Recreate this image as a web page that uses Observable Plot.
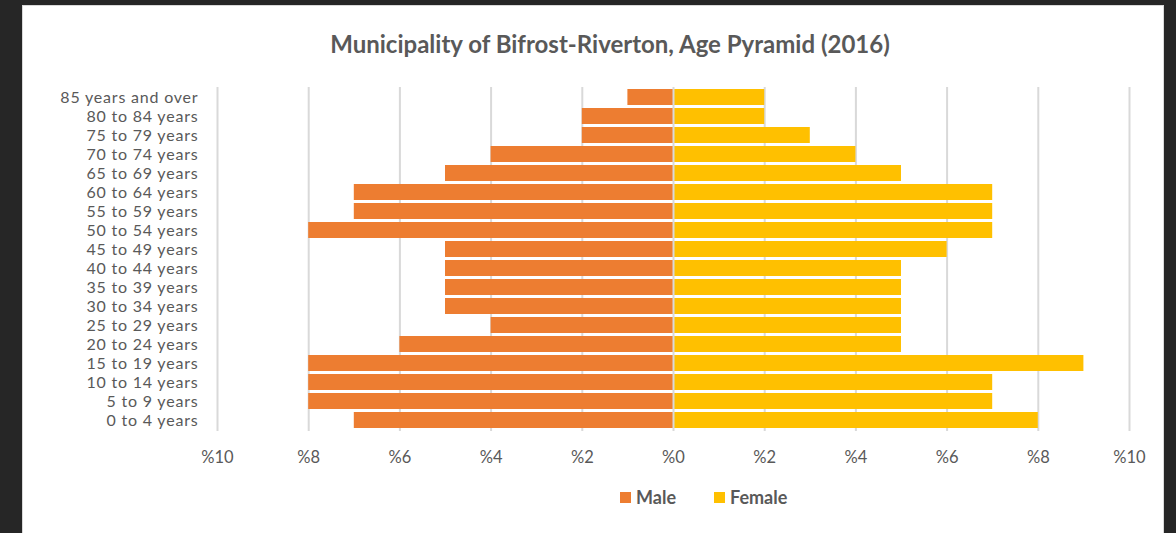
<!DOCTYPE html>
<html>
<head>
<meta charset="utf-8">
<script src="https://cdn.jsdelivr.net/npm/d3@7"></script>
<script src="https://cdn.jsdelivr.net/npm/@observablehq/plot@0.6"></script>
<style>
  html, body { margin: 0; padding: 0; }
  body { width: 1176px; height: 533px; background: #262626; position: relative; overflow: hidden; font-family: Lato, "Noto Sans", sans-serif; }
  #panel { position: absolute; left: 22px; top: 5px; width: 1142px; height: 540px; background: #fff; border: 1px solid #d9d9d9; box-sizing: border-box; }
  #chart { position: absolute; left: 0; top: 0; }
  #title { position: absolute; left: 0; width: 1220px; top: 29px; text-align: center; font-size: 24px; font-weight: bold; color: #595959; }
  #legend { position: absolute; left: 620px; top: 486px; font-size: 18px; font-weight: bold; color: #595959; display: flex; align-items: center; }
  .sw { display: inline-block; width: 11px; height: 11px; margin-right: 5px; }
  .item { display: flex; align-items: center; margin-right: 38px; }
  .yaxis text { letter-spacing: 0.8px; }
</style>
</head>
<body>
<div id="panel"></div>
<div id="title">Municipality of Bifrost-Riverton, Age Pyramid (2016)</div>
<div id="chart"></div>
<div id="legend">
  <div class="item"><span class="sw" style="background:#ED7D31"></span>Male</div>
  <div class="item"><span class="sw" style="background:#FFC000"></span>Female</div>
</div>
<script>
const ageGroups = ["0 to 4 years","5 to 9 years","10 to 14 years","15 to 19 years","20 to 24 years","25 to 29 years","30 to 34 years","35 to 39 years","40 to 44 years","45 to 49 years","50 to 54 years","55 to 59 years","60 to 64 years","65 to 69 years","70 to 74 years","75 to 79 years","80 to 84 years","85 years and over"];
const maleValues   = [7, 8, 8, 8, 6, 4, 5, 5, 5, 5, 8, 7, 7, 5, 4, 2, 2, 1];
const femaleValues = [8, 7, 7, 9, 5, 5, 5, 5, 5, 6, 7, 7, 7, 5, 4, 3, 2, 2];
const xTicks = [-10, -8, -6, -4, -2, 0, 2, 4, 6, 8, 10];
const seriesColors = {Male: "#ED7D31", Female: "#FFC000"};

const rows = [];
ageGroups.forEach((g, i) => {
  rows.push({age: g, sex: "Male", value: -maleValues[i]});
  rows.push({age: g, sex: "Female", value: femaleValues[i]});
});

const chart = Plot.plot({
  width: 1176,
  height: 533,
  marginLeft: 217,
  marginRight: 47,
  marginTop: 87,
  marginBottom: 102,
  style: {background: "transparent", fontFamily: "Lato, 'Noto Sans', sans-serif", color: "#595959", overflow: "visible"},
  x: {domain: [-10, 10], label: null},
  y: {domain: ageGroups.slice().reverse(), paddingInner: 0.14, paddingOuter: 0.04, label: null},
  color: {domain: ["Male", "Female"], range: [seriesColors.Male, seriesColors.Female]},
  marks: [
    Plot.ruleX(xTicks.filter(d => d !== 0), {stroke: "#d9d9d9", strokeWidth: 2}),
    Plot.barX(rows, {y: "age", x1: 0, x2: "value", fill: "sex"}),
    Plot.ruleX([0], {stroke: "#d9d9d9", strokeWidth: 2}),
    Plot.axisX({ticks: xTicks, tickFormat: d => "%" + Math.abs(d), tickSize: 0, tickPadding: 20, fontSize: 16.5, fill: "#595959", anchor: "bottom", label: null}),
    Plot.axisY({tickSize: 0, tickPadding: 19, fontSize: 16, fill: "#595959", anchor: "left", label: null, className: "yaxis"})
  ]
});
document.getElementById("chart").appendChild(chart);
</script>
</body>
</html>
